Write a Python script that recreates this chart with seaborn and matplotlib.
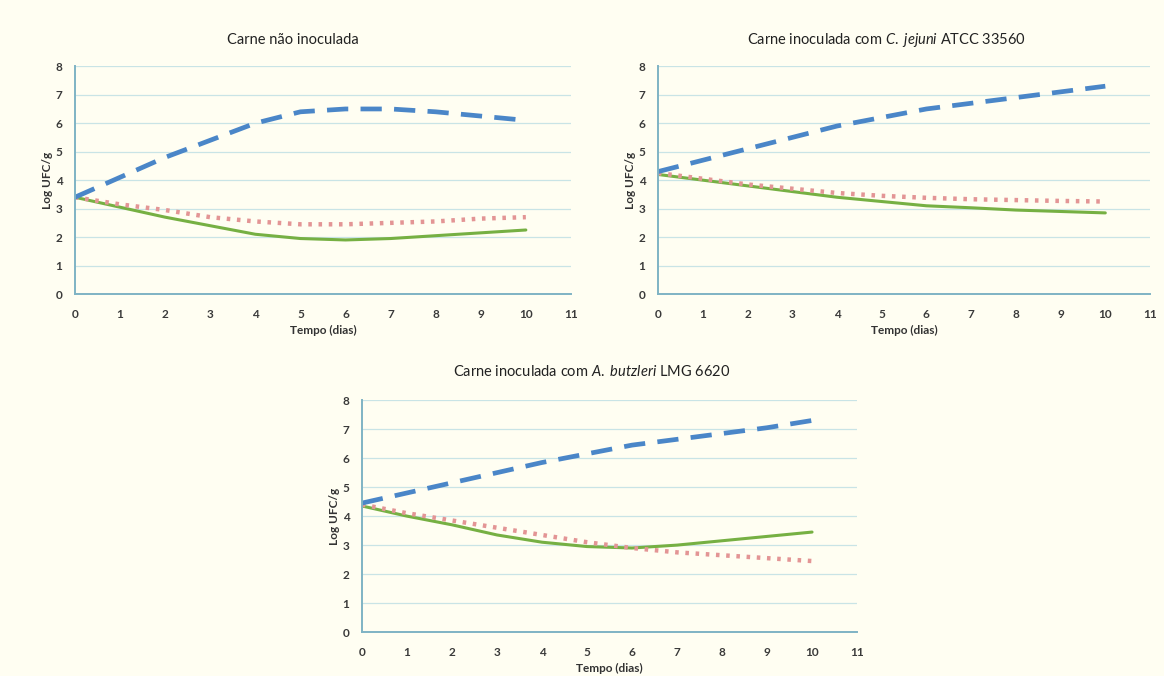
import seaborn as sns
import matplotlib.pyplot as plt
import pandas as pd

# dias de armazenamento
dias = [0, 1, 2, 3, 4, 5, 6, 7, 8, 9, 10]

# Carne nao inoculada
nao_azul = [3.4, 4.1, 4.8, 5.4, 6.0, 6.4, 6.5, 6.5, 6.4, 6.25, 6.1]
nao_verm = [3.4, 3.15, 2.95, 2.7, 2.55, 2.45, 2.45, 2.5, 2.55, 2.65, 2.7]
nao_verde = [3.4, 3.05, 2.7, 2.4, 2.1, 1.95, 1.9, 1.95, 2.05, 2.15, 2.25]

# Carne inoculada com C. jejuni
cj_azul = [4.3, 4.7, 5.1, 5.5, 5.9, 6.2, 6.5, 6.7, 6.9, 7.1, 7.3]
cj_verm = [4.25, 4.05, 3.85, 3.7, 3.55, 3.45, 3.38, 3.33, 3.3, 3.27, 3.25]
cj_verde = [4.2, 4.0, 3.8, 3.6, 3.4, 3.25, 3.1, 3.03, 2.95, 2.9, 2.85]

# Carne inoculada com A. butzleri
ab_azul = [4.45, 4.8, 5.15, 5.5, 5.85, 6.15, 6.45, 6.65, 6.85, 7.05, 7.3]
ab_verm = [4.4, 4.1, 3.85, 3.6, 3.35, 3.1, 2.9, 2.75, 2.65, 2.55, 2.45]
ab_verde = [4.35, 4.0, 3.7, 3.35, 3.1, 2.95, 2.9, 3.0, 3.15, 3.3, 3.45]

titulos = ['Carne não inoculada',
           r'Carne inoculada com $\it{C.\ jejuni}$ ATCC 33560',
           r'Carne inoculada com $\it{A.\ butzleri}$ LMG 6620']

sns.set_style('white')
plt.rcParams['font.family'] = ['Lato', 'DejaVu Sans']
plt.rcParams['mathtext.fontset'] = 'custom'
plt.rcParams['mathtext.rm'] = 'Lato'
plt.rcParams['mathtext.it'] = 'Lato:italic'

fundo = '#fffef2'
eixo = '#7fb3c4'
grade = '#c9e4e6'

fig = plt.figure(figsize=(11.64, 6.76), dpi=100, facecolor=fundo)

posicoes = [[0.0644, 0.565, 0.4261, 0.337],
            [0.5653, 0.565, 0.4227, 0.337],
            [0.311, 0.065, 0.4253, 0.343]]
centros_titulo = [(293, 40), (886, 40), (592, 372)]

series = [(nao_azul, nao_verm, nao_verde),
          (cj_azul, cj_verm, cj_verde),
          (ab_azul, ab_verm, ab_verde)]

for pos, (azul, verm, verde), titulo, (tx, ty) in zip(posicoes, series, titulos, centros_titulo):
    ax = fig.add_axes(pos)
    ax.set_facecolor(fundo)
    df = pd.DataFrame({'dia': dias, 'azul': azul, 'verm': verm, 'verde': verde})

    sns.lineplot(data=df, x='dia', y='verde', ax=ax, color='#76b043', linewidth=2.2)
    sns.lineplot(data=df, x='dia', y='verm', ax=ax, color='#e39595', linewidth=3.2,
                 linestyle=(0, (0.8, 1.5)))
    sns.lineplot(data=df, x='dia', y='azul', ax=ax, color='#4a86c8', linewidth=3.4,
                 linestyle=(0, (4.5, 2.6)))

    ax.set_xlim(0, 11)
    ax.set_ylim(0, 8)
    ax.set_xticks(range(0, 12))
    ax.set_yticks(range(0, 9))
    ax.grid(axis='y', color=grade, linewidth=0.9)
    ax.grid(axis='x', visible=False)
    for lado in ['top', 'right']:
        ax.spines[lado].set_visible(False)
    for lado in ['left', 'bottom']:
        ax.spines[lado].set_color(eixo)
        ax.spines[lado].set_linewidth(1.4)
    ax.tick_params(axis='both', direction='out', length=4, width=1.2, color=eixo,
                   labelsize=8.5, labelcolor='#3a3a3a')
    ax.tick_params(axis='x', pad=7)
    ax.tick_params(axis='y', pad=5)
    for t in ax.get_xticklabels() + ax.get_yticklabels():
        t.set_fontweight('bold')

    ax.set_xlabel('Tempo (dias)', fontsize=8.5, fontweight='bold', color='#333333', labelpad=3)
    ax.set_ylabel('Log UFC/g', fontsize=8.5, fontweight='bold', color='#333333', labelpad=2)

    fig.text(tx / 1164, 1 - ty / 676, titulo, ha='center', va='center',
             fontsize=10.5, color='#222222')

plt.savefig('out.png', dpi=100, facecolor=fundo)
